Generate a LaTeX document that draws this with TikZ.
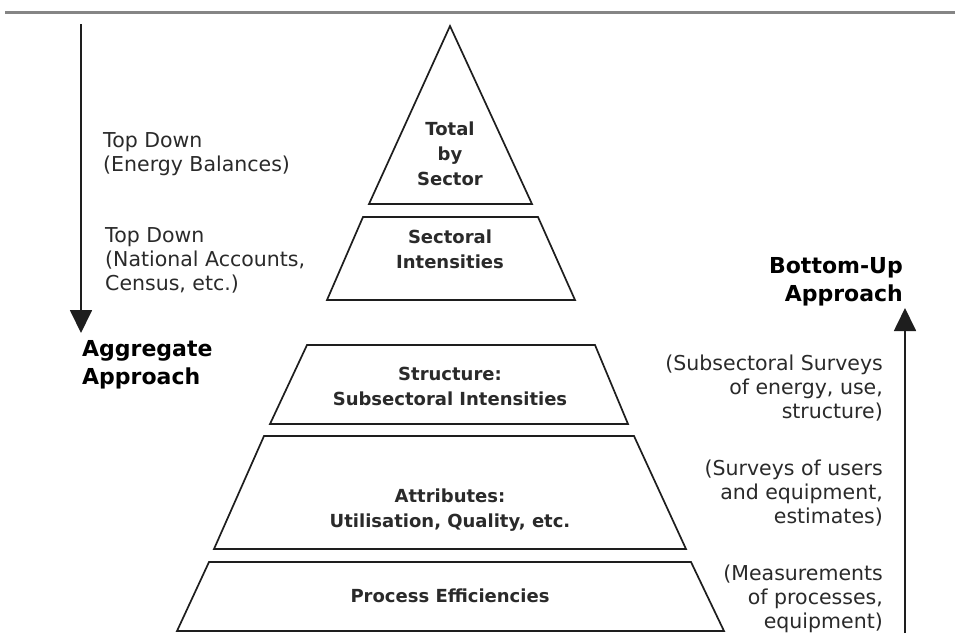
\documentclass[tikz,border=0pt]{standalone}
\usepackage{fontspec}
\setmainfont{DejaVu Sans}
\usetikzlibrary{arrows.meta}
\definecolor{linec}{HTML}{1E1E1E}
\definecolor{txtc}{HTML}{2A2A2A}
\definecolor{rulec}{HTML}{858585}
\begin{document}
\begin{tikzpicture}[x=1pt,y=-1pt,
  layer/.style={draw=linec, line width=1.7pt, line join=miter},
  lbl/.style={font=\bfseries\fontsize{18}{25}\selectfont, align=center, text=txtc, inner sep=0pt, anchor=north},
  side/.style={font=\fontsize{20.5}{24.2}\selectfont, text=txtc, inner sep=0pt},
  head/.style={font=\bfseries\fontsize{22}{28}\selectfont, text=black, inner sep=0pt},
  flow/.style={draw=linec, line width=1.8pt, -{Triangle[width=22pt,length=23pt]}}
]
\useasboundingbox[fill=white] (0,0) rectangle (955,633);
% top rule
\draw[rulec, line width=3pt] (5,12) -- (955,12);
% pyramid layers
\draw[layer] (450,26) -- (532,204) -- (369,204) -- cycle;
\draw[layer] (363,217) -- (538,217) -- (575,300) -- (327,300) -- cycle;
\draw[layer] (307,345) -- (595,345) -- (628,424) -- (270,424) -- cycle;
\draw[layer] (264,436) -- (634,436) -- (686,549) -- (214,549) -- cycle;
\draw[layer] (209,562) -- (691,562) -- (724,631) -- (177,631) -- cycle;
% layer labels
\node[lbl] (total) at (450,121.3) {Total\\by\\Sector};
\node[lbl] (sectoral) at (450,229.3) {Sectoral\\Intensities};
\node[lbl] (structure) at (450,367.3) {Structure:\\Subsectoral Intensities};
\node[lbl] (attributes) at (450,488.3) {Attributes:\\Utilisation, Quality, etc.};
\node[lbl] (process) at (450,588.3) {Process Efficiencies};
% left side
\coordinate (lstart) at (81,24);
\coordinate (lend) at (81,333);
\draw[flow] (lstart) -- (lend);
\node[side, anchor=north west, align=left] (td1) at (103,132.4) {Top Down\\(Energy Balances)};
\node[side, anchor=north west, align=left] (td2) at (105,227.4) {Top Down\\(National Accounts,\\Census, etc.)};
\node[head, anchor=north west, align=left] (agg) at (82,340.3) {Aggregate\\Approach};
% right side
\coordinate (rstart) at (905,633);
\coordinate (rend) at (905,308);
\draw[flow] (rstart) -- (rend);
\node[head, anchor=north east, align=right] (bu) at (903,257.3) {Bottom-Up\\Approach};
\node[side, anchor=north east, align=right] (r1) at (883,354.4) {(Subsectoral Surveys\\of energy, use,\\structure)};
\node[side, anchor=north east, align=right] (r2) at (883,459.4) {(Surveys of users\\and equipment,\\estimates)};
\node[side, anchor=north east, align=right] (r3) at (883,564.4) {(Measurements\\of processes,\\equipment)};
\end{tikzpicture}
\end{document}
